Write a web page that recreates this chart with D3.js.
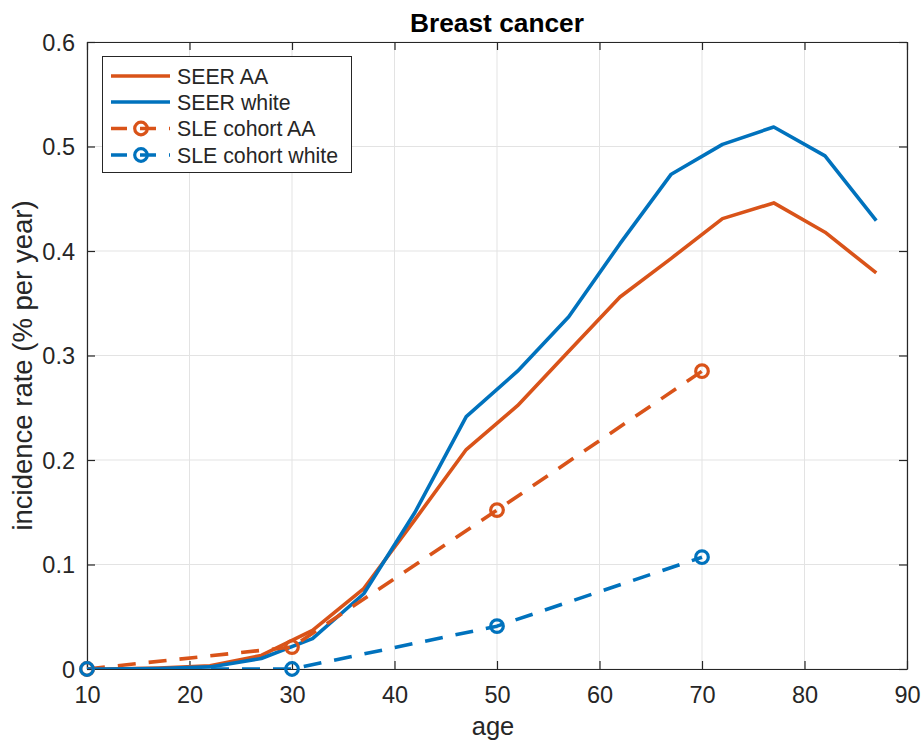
<!DOCTYPE html>
<html><head><meta charset="utf-8">
<script src="https://cdn.jsdelivr.net/npm/d3@7"></script>
<style>html,body{margin:0;padding:0;background:#fff}svg{display:block}text{font-family:"Liberation Sans",Arial,Helvetica,sans-serif;fill:#262626}</style>
</head><body>
<script>
const seerAges = [7, 12, 17, 22, 27, 32, 37, 42, 47, 52, 57, 62, 67, 72, 77, 82, 87];
const seerAA = [0, 0, 0.001, 0.003, 0.013, 0.037, 0.077, 0.143, 0.210, 0.252, 0.304, 0.356, 0.393, 0.431, 0.446, 0.418, 0.379];
const seerWhite = [0, 0, 0.0005, 0.002, 0.010, 0.029, 0.072, 0.150, 0.2415, 0.285, 0.337, 0.407, 0.4735, 0.502, 0.5187, 0.491, 0.429];
const sleAges = [10, 30, 50, 70];
const sleAA = [0, 0.021, 0.152, 0.285];
const sleWhite = [0, 0, 0.041, 0.107];
const xTicks = [10, 20, 30, 40, 50, 60, 70, 80, 90];
const yTicks = [0, 0.1, 0.2, 0.3, 0.4, 0.5, 0.6];
const seriesNames = ["SEER AA", "SEER white", "SLE cohort AA", "SLE cohort white"];
const titleText = "Breast cancer";
const xLabel = "age";
const yLabel = "incidence rate (% per year)";

const W = 922, H = 741;
const m = {left: 87, right: 922 - 907, top: 42, bottom: 741 - 669};
const orange = "#D95319", blue = "#0072BD", axisC = "#262626";

const svg = d3.select("body").append("svg").attr("width", W).attr("height", H);
const x = d3.scaleLinear().domain([10, 90]).range([m.left, W - m.right]);
const y = d3.scaleLinear().domain([0, 0.6]).range([H - m.bottom, m.top]);

svg.append("defs").append("clipPath").attr("id", "clip")
  .append("rect").attr("x", x(10)).attr("y", y(0.6)).attr("width", x(90) - x(10)).attr("height", y(0) - y(0.6));

// grid
const g = svg.append("g");
g.selectAll(".gx").data(xTicks).join("line")
  .attr("x1", d => x(d)).attr("x2", d => x(d)).attr("y1", y(0)).attr("y2", y(0.6))
  .attr("stroke", "#e3e3e3").attr("stroke-width", 1);
g.selectAll(".gy").data(yTicks).join("line")
  .attr("y1", d => y(d)).attr("y2", d => y(d)).attr("x1", x(10)).attr("x2", x(90))
  .attr("stroke", "#e3e3e3").attr("stroke-width", 1);

// axes
const tickLen = 8;
const xAxisB = d3.axisBottom(x).tickValues(xTicks).tickSizeInner(-tickLen).tickSizeOuter(0).tickPadding(17).tickFormat(d3.format("d"));
const xAxisT = d3.axisTop(x).tickValues(xTicks).tickSizeInner(-tickLen).tickSizeOuter(0).tickFormat("");
const yAxisL = d3.axisLeft(y).tickValues(yTicks).tickSizeInner(-tickLen).tickSizeOuter(0).tickPadding(12).tickFormat(d => d === 0 ? "0" : d3.format(".1f")(d));
const yAxisR = d3.axisRight(y).tickValues(yTicks).tickSizeInner(-tickLen).tickSizeOuter(0).tickFormat("");

function styleAxis(sel) {
  sel.select(".domain").attr("stroke", axisC).attr("stroke-width", 1.2);
  sel.selectAll(".tick line").attr("stroke", axisC).attr("stroke-width", 1.2);
  sel.selectAll(".tick text").attr("fill", axisC).style("font-size", "23.5px")
    .style("font-family", '"Liberation Sans", Arial, sans-serif');
}
svg.append("g").attr("transform", `translate(0,${y(0)})`).call(xAxisB).call(styleAxis)
  .selectAll(".tick text").attr("dy", "0.71em");
svg.append("g").attr("transform", `translate(0,${y(0.6)})`).call(xAxisT).call(styleAxis);
svg.append("g").attr("transform", `translate(${x(10)},0)`).call(yAxisL).call(styleAxis)
  .selectAll(".tick text").attr("dy", "0.36em");
svg.append("g").attr("transform", `translate(${x(90)},0)`).call(yAxisR).call(styleAxis);

// series
const line = d3.line().x(d => x(d[0])).y(d => y(d[1]));
const plot = svg.append("g").attr("clip-path", "url(#clip)");
const dash = "18,13";
const series = [
  {ages: seerAges, vals: seerAA, color: orange, dashed: false},
  {ages: seerAges, vals: seerWhite, color: blue, dashed: false},
  {ages: sleAges, vals: sleAA, color: orange, dashed: true},
  {ages: sleAges, vals: sleWhite, color: blue, dashed: true}
];
series.forEach(s => {
  const pts = s.ages.map((a, i) => [a, s.vals[i]]);
  plot.append("path").datum(pts).attr("d", line).attr("fill", "none")
    .attr("stroke", s.color).attr("stroke-width", 3.6)
    .attr("stroke-dasharray", s.dashed ? dash : null)
    .attr("stroke-linejoin", "round");
});
series.filter(s => s.dashed).forEach(s => {
  const pts = s.ages.map((a, i) => [a, s.vals[i]]);
  svg.append("g").selectAll("circle").data(pts).join("circle")
    .attr("cx", d => x(d[0])).attr("cy", d => y(d[1])).attr("r", 6.3)
    .attr("fill", "none").attr("stroke", s.color).attr("stroke-width", 3.2);
});

// title & labels
svg.append("text").attr("x", (x(10) + x(90)) / 2).attr("y", 32).attr("text-anchor", "middle")
  .style("font-size", "26.3px").style("font-weight", "bold").style("fill", "#000").text(titleText);
svg.append("text").attr("x", (x(10) + x(90)) / 2 - 4).attr("y", 735).attr("text-anchor", "middle")
  .style("font-size", "25.5px").text(xLabel);
svg.append("text").attr("transform", `translate(32,${(y(0) + y(0.6)) / 2 + 10}) rotate(-90)`).attr("text-anchor", "middle")
  .style("font-size", "27.5px").text(yLabel);

// legend
const lg = svg.append("g");
lg.append("rect").attr("x", 102.5).attr("y", 56.5).attr("width", 249).attr("height", 116)
  .attr("fill", "#fff").attr("stroke", axisC).attr("stroke-width", 1);
const rowY = [76, 102, 128.5, 155];
series.forEach((s, i) => {
  const ry = rowY[i];
  lg.append("line").attr("x1", 111).attr("x2", 170).attr("y1", ry).attr("y2", ry)
    .attr("stroke", s.color).attr("stroke-width", 3.6).attr("stroke-dasharray", s.dashed ? "16,13" : null);
  if (s.dashed) {
    lg.append("circle").attr("cx", 141).attr("cy", ry).attr("r", 6.3)
      .attr("fill", "none").attr("stroke", s.color).attr("stroke-width", 3.2);
  }
  lg.append("text").attr("x", 177).attr("y", ry + 7.6).style("font-size", "21.3px").text(seriesNames[i]);
});
</script>
</body></html>
